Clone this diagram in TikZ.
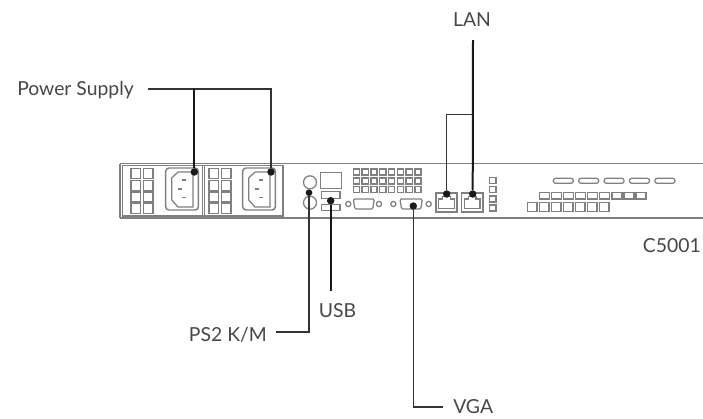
\documentclass[tikz,border=0pt]{standalone}
\usepackage{fontspec}
\setmainfont{Lato}
\usetikzlibrary{positioning}
\definecolor{partgray}{gray}{0.5}
\tikzset{
    part/.style={draw=partgray, line width=1.1pt},
    thinpart/.style={draw=partgray, line width=0.95pt},
    lead/.style={draw=black!90, line width=1.5pt},
    leadthin/.style={draw=black!80, line width=1pt},
    tag/.style={inner sep=0pt, font=\fontsize{14.5}{16}\selectfont, text=black!72},
    pin/.style={circle, fill=black!90, inner sep=0pt, minimum size=5.6pt},
    pinsmall/.style={circle, fill=black!90, inner sep=0pt, minimum size=5pt},
}
\begin{document}
\begin{tikzpicture}[x=0.75pt, y=-0.75pt]
    \useasboundingbox (0,0) rectangle (703,418);

    % Chassis
    \draw[part] (120,163.5) -- (703,163.5);
    \draw[part] (120,218) -- (703,218);
    \draw[part] (120,163.5) -- (120,218);
    \draw[part] (122.5,165.5) rectangle (283,216);
    \draw[part] (202.5,165.5) -- (202.5,216);
    \draw[part] (204.5,165.5) -- (204.5,216);

    % Power supply vents
    \foreach \x in {131,209}
        \foreach \i in {0,1}
            \foreach \j in {0,1,2,3}
                \draw[thinpart] (\x+\i*12.3,168.5+\j*11.7) rectangle (\x+\i*12.3+9.8,178.5+\j*11.7);

    % Power sockets
    \foreach \x/\s in {165.7/0,242.7/77}{
        \draw[part, rounded corners=2.5pt] (\x,168) rectangle (\x+32.7,210);
        \draw[thinpart] (171.7+\s,178) -- (178+\s,172) -- (193+\s,172) -- (193+\s,207) -- (178+\s,207) -- (171.7+\s,200) -- cycle;
        \draw[thinpart, line width=1.1pt] (182+\s,180) -- (186+\s,180);
        \draw[thinpart, line width=1.1pt] (178+\s,189) -- (182+\s,189);
        \draw[thinpart, line width=1.1pt] (182+\s,197.7) -- (186+\s,197.7);
    }

    % PS2
    \draw[thinpart] (310,182.3) circle (6.5);
    \draw[thinpart] (310,202.7) circle (6.5);

    % USB
    \draw[part] (320.7,172.7) rectangle (341.7,188.7);
    \draw[part] (321.7,191.7) rectangle (340,198.3);
    \draw[part] (321.7,204.3) rectangle (340,210.7);

    % Upper vent block
    \foreach \i in {0,...,7}
        \foreach \j in {0,1,2}
            \draw[thinpart] (353.3+\i*8.8,169+\j*8.9) rectangle (359.5+\i*8.8,175+\j*8.9);

    % Serial and VGA ports
    \foreach \x in {348.3,379,393.3,428.7}
        \draw[thinpart] (\x,204) circle (2.6);
    \foreach \x/\w in {353.3/21,400/22.3}
        \draw[thinpart, rounded corners=1pt] (\x,199) -- (\x+\w,199) -- (\x+\w-1.5,209) -- (\x+1.5,209) -- cycle;

    % LAN ports
    \foreach \x in {435.7,461.5}{
        \draw[part, line width=1.3pt] (\x,193.3) rectangle (\x+21.5,211.7);
        \draw[thinpart] (\x+3,199) -- (\x+7,199) -- (\x+7,196.5) -- (\x+14.5,196.5) -- (\x+14.5,199) -- (\x+18.5,199) -- (\x+18.5,208.5) -- (\x+3,208.5) -- cycle;
    }

    % Side column
    \foreach \j in {0,1,2,3}
        \draw[thinpart] (489.5,177.5+\j*9.2) rectangle (496,183.5+\j*9.2);

    % Right side panel
    \foreach \i in {0,...,4}
        \draw[thinpart, rounded corners=1.7pt] (553.3+\i*25.4,178.3) rectangle (573.3+\i*25.4,183.3);
    \foreach \i in {0,...,8}
        \draw[thinpart] (539.3+\i*12.1,192.7) rectangle (549.3+\i*12.1,199);
    \foreach \i in {0,...,6}
        \draw[part] (527.3+\i*12,202.3) rectangle (536.8+\i*12,211.7);

    % Labels
    \node[tag, anchor=base west] (power) at (17,95) {Power Supply};
    \node[tag, anchor=base] (lan) at (472,26) {LAN};
    \node[tag, anchor=base east] (ps2) at (267,341) {PS2 K/M};
    \node[tag, anchor=base] (usb) at (337.5,317) {USB};
    \node[tag, anchor=base west] (vga) at (453,413.5) {VGA};
    \node[tag, anchor=base east] (model) at (701,252.5) {C5001};

    % Connector ends
    \node[pin] (socketa) at (194.3,172) {};
    \node[pin] (socketb) at (271,172) {};
    \node[pinsmall] (ps2pin) at (309,192.7) {};
    \node[pin] (usbpin) at (330.7,200.7) {};
    \node[pin] (vgapin) at (413.3,206) {};
    \node[pin] (lana) at (446.7,194) {};
    \node[pin] (lanb) at (472.7,194) {};
    \coordinate (powertop) at (148,89);
    \coordinate (lantop) at (473,40);
    \coordinate (lanjoin) at (473,114.7);
    \coordinate (ps2end) at (276,332);
    \coordinate (usbend) at (330.7,290.7);
    \coordinate (vgaend) at (443,407);

    % Connectors
    \draw[leadthin] (powertop) -- (271,89) -- (socketb);
    \draw[lead] (socketa) -- (194.3,89);
    \draw[lead] (lantop) -- (lanb);
    \draw[leadthin] (lanjoin) -- (446.7,114.7) -- (lana);
    \draw[leadthin] (ps2pin) -- (309,332) -- (ps2end);
    \draw[lead] (usbpin) -- (usbend);
    \draw[leadthin] (vgapin) -- (413.3,407) -- (vgaend);
\end{tikzpicture}
\end{document}
